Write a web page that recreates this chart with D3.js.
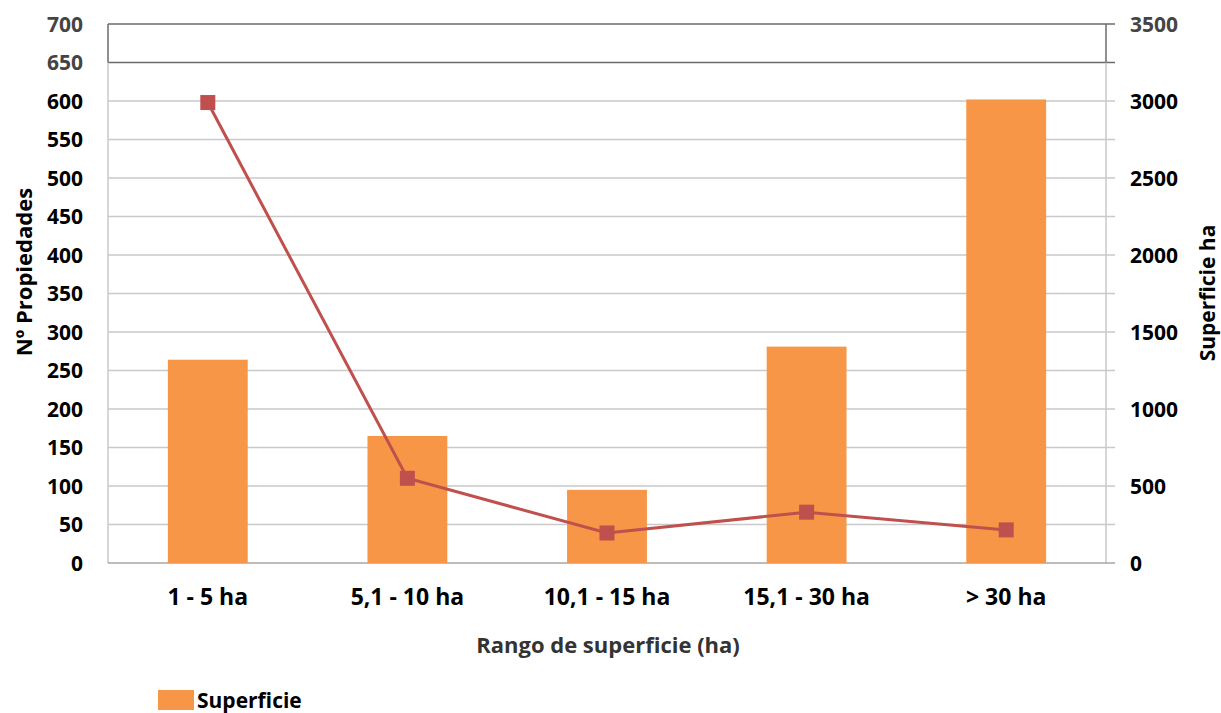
<!DOCTYPE html>
<html>
<head>
<meta charset="utf-8">
<script src="https://cdn.jsdelivr.net/npm/d3@7/dist/d3.min.js"></script>
<style>
  body { margin: 0; background: #fff; }
  svg text { font-family: "Open Sans", "Noto Sans", sans-serif; font-weight: bold; fill: #000; }
</style>
</head>
<body>
<svg id="chart" width="1221" height="713"></svg>
<script>
// data
var categories = ["1 - 5 ha", "5,1 - 10 ha", "10,1 - 15 ha", "15,1 - 30 ha", "> 30 ha"];
var superficie = [1320, 825, 475, 1405, 3010];   // bars, right axis
var propiedades = [598, 110, 39, 66, 43];        // line, left axis
var leftTicks = d3.range(0, 701, 50);
var rightTicks = d3.range(0, 3501, 500);

var svg = d3.select("#chart");
var plotL = 108, plotR = 1106, plotT = 24, plotB = 563;

var x = d3.scaleBand().domain(categories).range([plotL, plotR]).paddingInner(0.6).paddingOuter(0.3);
var xc = d3.scaleBand().domain(categories).range([plotL, plotR]);
var yL = d3.scaleLinear().domain([0, 700]).range([plotB, plotT]);
var yR = d3.scaleLinear().domain([0, 3500]).range([plotB, plotT]);

// gridlines
svg.append("g").selectAll("line")
  .data(leftTicks.filter(d => d > 0))
  .join("line")
  .attr("x1", plotL).attr("x2", plotR + 9)
  .attr("y1", d => yL(d)).attr("y2", d => yL(d))
  .attr("stroke", d => d >= 650 ? "#6b6b6b" : "#c9c9c9")
  .attr("stroke-width", 1.5);

// axis lines
svg.append("line").attr("x1", plotL).attr("x2", plotL).attr("y1", yL(650)).attr("y2", plotB)
  .attr("stroke", "#c9c9c9").attr("stroke-width", 1.5);
svg.append("line").attr("x1", plotR).attr("x2", plotR).attr("y1", yL(650)).attr("y2", plotB)
  .attr("stroke", "#c9c9c9").attr("stroke-width", 1.5);
svg.append("line").attr("x1", plotL).attr("x2", plotL).attr("y1", plotT).attr("y2", yL(650))
  .attr("stroke", "#6b6b6b").attr("stroke-width", 1.5);
svg.append("line").attr("x1", plotR).attr("x2", plotR).attr("y1", plotT).attr("y2", yL(650))
  .attr("stroke", "#6b6b6b").attr("stroke-width", 1.5);
svg.append("line").attr("x1", plotL).attr("x2", plotR + 9).attr("y1", plotB).attr("y2", plotB)
  .attr("stroke", "#a6a6a6").attr("stroke-width", 1.5);

// bars
svg.append("g").selectAll("rect")
  .data(superficie)
  .join("rect")
  .attr("x", (d, i) => x(categories[i]))
  .attr("width", x.bandwidth())
  .attr("y", d => yR(d))
  .attr("height", d => plotB - yR(d))
  .attr("fill", "#F79646");

// line
var line = d3.line()
  .x((d, i) => xc(categories[i]) + xc.bandwidth() / 2)
  .y(d => yL(d));
svg.append("path").datum(propiedades)
  .attr("d", line)
  .attr("fill", "none")
  .attr("stroke", "#C0504D")
  .attr("stroke-width", 3);
svg.append("g").selectAll("rect")
  .data(propiedades)
  .join("rect")
  .attr("x", (d, i) => xc(categories[i]) + xc.bandwidth() / 2 - 7.5)
  .attr("y", d => yL(d) - 7.5)
  .attr("width", 15).attr("height", 15)
  .attr("fill", "#C0504D");

// left tick labels
svg.append("g").selectAll("text")
  .data(leftTicks)
  .join("text")
  .attr("x", 83).attr("y", d => yL(d))
  .attr("dy", "0.36em")
  .attr("text-anchor", "end")
  .style("font-size", "21px")
  .style("fill", d => d >= 650 ? "#444" : "#000")
  .text(d => d);

// right tick labels
svg.append("g").selectAll("text")
  .data(rightTicks)
  .join("text")
  .attr("x", 1130).attr("y", d => yR(d))
  .attr("dy", "0.36em")
  .style("font-size", "21px")
  .style("fill", d => d >= 3500 ? "#444" : "#000")
  .text(d => d);

// category labels
svg.append("g").selectAll("text")
  .data(categories)
  .join("text")
  .attr("x", d => xc(d) + xc.bandwidth() / 2)
  .attr("y", 597)
  .attr("dy", "0.36em")
  .attr("text-anchor", "middle")
  .style("font-size", "23px")
  .text(d => d);

// axis titles
svg.append("text")
  .attr("transform", "translate(24,272) rotate(-90)")
  .attr("text-anchor", "middle").attr("dy", "0.36em")
  .style("font-size", "22px")
  .text("Nº Propiedades");
svg.append("text")
  .attr("transform", "translate(1207,293) rotate(-90)")
  .attr("text-anchor", "middle").attr("dy", "0.36em")
  .style("font-size", "21px")
  .text("Superficie ha");
svg.append("text")
  .attr("x", 608).attr("y", 645)
  .attr("text-anchor", "middle").attr("dy", "0.36em")
  .style("font-size", "22px").style("fill", "#333")
  .text("Rango de superficie (ha)");

// legend
svg.append("rect").attr("x", 158).attr("y", 690).attr("width", 36).attr("height", 20).attr("fill", "#F79646");
svg.append("text").attr("x", 197).attr("y", 700).attr("dy", "0.36em")
  .style("font-size", "21px").text("Superficie");
</script>
</body>
</html>
